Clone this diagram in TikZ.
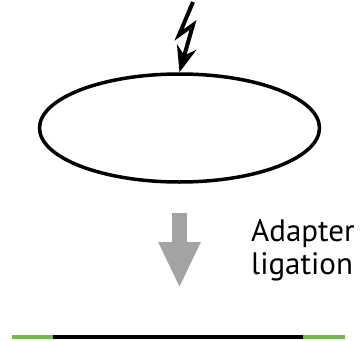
\documentclass[tikz,border=0pt]{standalone}
\usepackage{fontspec}
\setmainfont{PT Sans}
\usetikzlibrary{shapes.geometric,arrows.meta}
\definecolor{adaptgreen}{HTML}{6DBE45}
\definecolor{stepgray}{HTML}{A3A3A3}
\begin{document}
\begin{tikzpicture}[x=1pt,y=-1pt]
    \tikzset{
    ring/.style={ellipse,draw,line width=3.5pt,minimum width=280pt,minimum height=108pt,inner sep=0pt},
    bolt/.style={line width=4pt,line join=miter,-{Stealth[length=26pt,width=20pt]}},
    bigarrow/.style={stepgray,line width=15pt,-{Triangle[length=46pt,width=39pt]}},
    dna/.style={line width=4.5pt},
    }
    \useasboundingbox (0,0) rectangle (361,340);
    \node[ring] (ring) at (179.5,128) {};
    \coordinate (z1) at (193,2);
    \coordinate (z2) at (179,35);
    \coordinate (z3) at (193,25);
    \draw[bolt] (z1) -- (z2) -- (z3) -- (ring.north);

    \coordinate (a1) at (179.5,213);
    \coordinate (a2) at (179.5,288);
    \draw[bigarrow] (a1) -- (a2);
    \node[anchor=base west,align=left,font=\fontsize{31}{33}\selectfont,inner sep=0pt] (lbl) at (251,274) {Adapter\\ligation};

    \coordinate (d1) at (12,337);
    \coordinate (d2) at (53,337);
    \coordinate (d3) at (303,337);
    \coordinate (d4) at (345,337);
    \draw[dna,adaptgreen] (d1) -- (d2);
    \draw[dna] (d2) -- (d3);
    \draw[dna,adaptgreen] (d3) -- (d4);
\end{tikzpicture}
\end{document}
